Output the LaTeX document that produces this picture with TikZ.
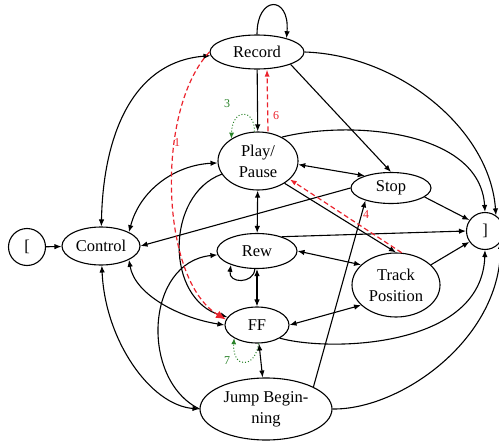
\documentclass[tikz,border=0pt]{standalone}
\usepackage{fontspec}
\setmainfont{Liberation Serif}
\usetikzlibrary{shapes.geometric,arrows.meta,calc}
\definecolor{myred}{RGB}{235,35,45}
\definecolor{mygreen}{RGB}{40,130,40}
\begin{document}
\begin{tikzpicture}[x=1pt,y=-1pt,line width=1.1pt,
  >={Latex[length=7pt,width=5.5pt]},
  st/.style={draw,ellipse,inner sep=0pt,align=center,font=\fontsize{16.5}{21}\selectfont},
  circ/.style={draw,circle,inner sep=0pt,minimum size=37pt,font=\fontsize{16.5}{21}\selectfont},
  lbl/.style={inner sep=0pt,font=\fontsize{12}{14}\selectfont},
  redarrow/.style={myred,dashed,line width=1.2pt,dash pattern=on 5pt off 3pt},
  greenarrow/.style={mygreen,dotted,line width=1pt,-{Latex[length=6pt,width=5pt]}}]
\useasboundingbox (0,0) rectangle (499,442);

\node[st,minimum width=94pt,minimum height=34pt] (rec) at (257,52) {Record};
\node[st,minimum width=80pt,minimum height=58pt] (play) at (258,161) {Play/\\Pause};
\node[st,minimum width=80pt,minimum height=31pt] (stop) at (391,188) {Stop};
\node[circ] (rb) at (485,231) {]};
\node[circ] (lb) at (27,247) {[};
\node[st,minimum width=78pt,minimum height=38pt] (ctrl) at (101,246) {Control};
\node[st,minimum width=80pt,minimum height=35pt] (rew) at (257,251) {Rew};
\node[st,minimum width=88pt,minimum height=64pt] (track) at (396,285) {Track\\Position};
\node[st,minimum width=64pt,minimum height=36pt] (ff) at (257,325) {FF};
\node[st,minimum width=132pt,minimum height=62pt] (jump) at (266,409) {Jump Begin-\\ning};

% Record edges
\draw[->] (rec.north) .. controls (257,-5) and (290,-5) .. (rec.25);
\draw[->] (rec) -- (play);
\draw[->] (rec.south east) -- (stop.north);
\draw[->] (rec.east) .. controls (400,55) and (490,130) .. (rb.55);
\draw[<->] (ctrl) .. controls (103,140) and (130,62) .. (rec);

% Control edges
\draw[<->] (ctrl.north east) .. controls (140,190) and (175,165) .. (play);
\draw[->] (stop.west) -- (ctrl.east);
\draw[->] (lb) -- (ctrl);
\draw[<->] (ctrl.south east) .. controls (135,295) and (180,318) .. (ff.180);
\draw[<->] (ctrl) .. controls (105,340) and (150,405) .. (jump.west);

% Play edges
\draw[<->] (play.-5) -- (stop.155);
\draw[<->] (play) -- (rew);
\draw[->] (play.-40) -- (track.north);
\draw[->] (play.45) .. controls (350,120) and (480,130) .. (rb.north);
\draw[->] (play.200) .. controls (165,195) and (165,300) .. (ff.165);

% Rew edges
\draw[->] (rew.-97) .. controls (254,284) and (228,284) .. (rew.-152);
\draw[<->] (rew) -- (ff);
\draw[->] (rew.30) -- (rb.west);
\draw[<->] (rew.east) -- (track.150);

% Jump edges
\draw[->] (jump.west) .. controls (140,380) and (145,262) .. (rew);
\draw[->] (jump.25) -- (stop.206);
\draw[->] (jump.east) .. controls (400,410) and (500,340) .. (rb.-35);
\draw[<->] (ff) -- (jump);

% Track / Stop / FF to ]
\draw[<->] (ff.east) -- (track.210);
\draw[->] (track.30) -- (rb.215);
\draw[->] (stop.-15) -- (rb.145);
\draw[->] (ff.-30) .. controls (330,352) and (482,348) .. (rb.south);

% coloured transitions
\draw[redarrow,-{Latex[length=10pt,width=8pt]}] (rec.west) .. controls (155,110) and (160,280) .. (ff.170);
\draw[redarrow,-{Latex[length=7pt,width=5pt]}] ([xshift=10pt]play.north) -- ([xshift=10pt]rec.south);
\draw[redarrow,-{Latex[length=7pt,width=5pt]}] (track.80) -- (play.-30);
\draw[greenarrow] (play.97) .. controls (255,108) and (232,108) .. (play.140);
\draw[greenarrow] (ff.-85) .. controls (255,369) and (232,369) .. (ff.-150);

\node[lbl,text=myred] (l1) at (177,143) {1};
\node[lbl,text=mygreen] (l3) at (227,104) {3};
\node[lbl,text=myred] (l6) at (276,116) {6};
\node[lbl,text=myred] (l4) at (366,215) {4};
\node[lbl,text=mygreen] (l7) at (227,361) {7};
\end{tikzpicture}
\end{document}
